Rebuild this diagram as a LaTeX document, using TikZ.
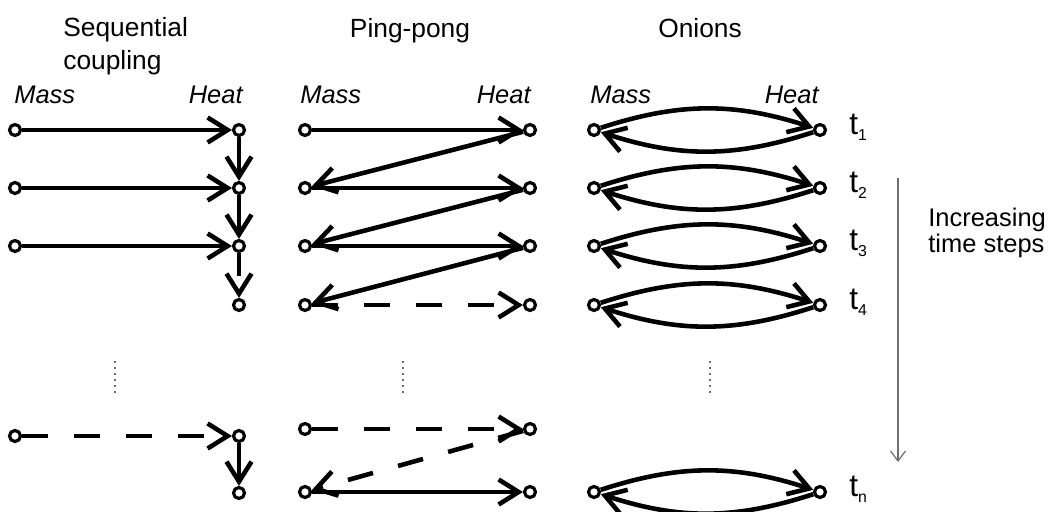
\documentclass[tikz,border=0pt]{standalone}
\usepackage{fontspec}
\setmainfont{Liberation Sans}
\usetikzlibrary{positioning, arrows.meta}
\definecolor{Guide}{HTML}{6E6E6E}
\newcommand{\tsub}[1]{t\raisebox{-3.5pt}{\fontsize{9}{9}\selectfont #1}}

\begin{document}
\begin{tikzpicture}[
    x=0.02cm, y=-0.02cm,
    port/.style={circle, draw=black, fill=white, line width=1.8pt, inner sep=0pt, minimum size=0.22cm},
    link/.style={line width=2.6pt, -{Straight Barb[length=0.4cm, width=0.5cm]}},
    gap/.style={link, dash pattern=on 0.52cm off 0.52cm},
    title/.style={font=\fontsize{15}{16}\selectfont, inner sep=0pt},
    side/.style={font=\fontsize{14.5}{17}\selectfont\itshape, inner sep=0pt},
    tick/.style={font=\fontsize{18}{20}\selectfont, inner sep=0pt, anchor=base west},
    dots/.style={Guide, line width=0.7pt, dash pattern=on 0.045cm off 0.075cm},
    timeline/.style={Guide, line width=0.7pt, -{Straight Barb[length=0.2cm, width=0.3cm]}}
]
\useasboundingbox (0,0) rectangle (1052,511);

% Column titles
\node[title, anchor=north west, align=left] (seqtitle) at (63,17) {Sequential\\[3pt]coupling};
\node[title, anchor=base] (pingtitle) at (410,37) {Ping-pong};
\node[title, anchor=base] (oniontitle) at (700,37) {Onions};

\node[side, anchor=base west] (seqmass) at (14,103) {Mass};
\node[side, anchor=base east] (seqheat) at (243,103) {Heat};
\node[side, anchor=base west] (pingmass) at (300,103) {Mass};
\node[side, anchor=base east] (pingheat) at (531,103) {Heat};
\node[side, anchor=base west] (onionmass) at (590,103) {Mass};
\node[side, anchor=base east] (onionheat) at (819,103) {Heat};

% Sequential coupling
\node[port] (sm1) at (15,130) {};
\node[port] (sm2) at (15,188) {};
\node[port] (sm3) at (15,246) {};
\node[port] (sm5) at (15,436) {};
\node[port] (sh1) at (239,130) {};
\node[port] (sh2) at (239,188) {};
\node[port] (sh3) at (239,246) {};
\node[port] (sh4) at (239,305) {};
\node[port] (sh5) at (239,436) {};
\node[port] (sh6) at (239,493) {};

\draw[link] (sm1) -- (sh1);
\draw[link] (sm2) -- (sh2);
\draw[link] (sm3) -- (sh3);
\draw[link] (sh1) -- (sh2);
\draw[link] (sh2) -- (sh3);
\draw[link, dash pattern=on 0.46cm off 2cm] (sh3) -- (sh4);
\draw[gap] (sm5) -- (sh5);
\draw[link] (sh5) -- (sh6);

% Ping-pong
\node[port] (pm1) at (305,130) {};
\node[port] (pm2) at (305,188) {};
\node[port] (pm3) at (305,246) {};
\node[port] (pm4) at (305,305) {};
\node[port] (pm5) at (305,429) {};
\node[port] (pm6) at (305,492) {};
\node[port] (ph1) at (530,130) {};
\node[port] (ph2) at (530,188) {};
\node[port] (ph3) at (530,246) {};
\node[port] (ph4) at (530,305) {};
\node[port] (ph5) at (530,429) {};
\node[port] (ph6) at (530,492) {};

\draw[link] (pm1) -- (ph1);
\draw[link] (ph1) -- (pm2);
\draw[link] (pm2) -- (ph2);
\draw[link] (ph2) -- (pm3);
\draw[link] (pm3) -- (ph3);
\draw[link] (ph3) -- (pm4);
\draw[gap] (pm4) -- (ph4);
\draw[gap] (pm5) -- (ph5);
\draw[gap] (ph5) -- (pm6);
\draw[link] (pm6) -- (ph6);

% Onions
\node[port] (om1) at (594,130) {};
\node[port] (om2) at (594,188) {};
\node[port] (om3) at (594,246) {};
\node[port] (om4) at (594,305) {};
\node[port] (omn) at (594,492) {};
\node[port] (oh1) at (820,130) {};
\node[port] (oh2) at (820,188) {};
\node[port] (oh3) at (820,246) {};
\node[port] (oh4) at (820,305) {};
\node[port] (ohn) at (820,492) {};

\draw[link] (om1) to[bend left=18] (oh1);
\draw[link] (oh1) to[bend left=18] (om1);
\draw[link] (om2) to[bend left=18] (oh2);
\draw[link] (oh2) to[bend left=18] (om2);
\draw[link] (om3) to[bend left=18] (oh3);
\draw[link] (oh3) to[bend left=18] (om3);
\draw[link] (om4) to[bend left=18] (oh4);
\draw[link] (oh4) to[bend left=18] (om4);
\draw[link] (omn) to[bend left=18] (ohn);
\draw[link] (ohn) to[bend left=18] (omn);

% Time steps
\node[tick] (t1) at (849,134) {\tsub{1}};
\node[tick] (t2) at (849,192) {\tsub{2}};
\node[tick] (t3) at (849,250) {\tsub{3}};
\node[tick] (t4) at (849,309) {\tsub{4}};
\node[tick] (tn) at (849,496) {\tsub{n}};

\coordinate (tstart) at (898,178);
\coordinate (tend) at (898,462);
\draw[timeline] (tstart) -- (tend);
\node[anchor=north west, align=left, inner sep=0pt, font=\fontsize{14.5}{13}\selectfont] (steps) at (928,208) {Increasing\\time steps};

% Omitted steps
\draw[dots] (115,361) -- (115,394);
\draw[dots] (403,361) -- (403,394);
\draw[dots] (710,361) -- (710,394);

\end{tikzpicture}
\end{document}
